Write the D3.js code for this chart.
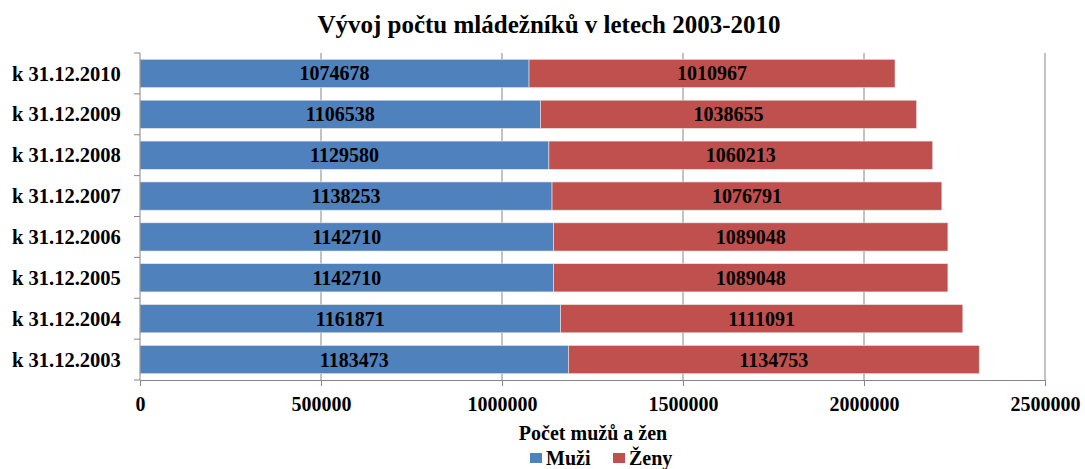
<!DOCTYPE html>
<html>
<head>
<meta charset="utf-8">
<script src="https://cdn.jsdelivr.net/npm/d3@7"></script>
<style>
  body { margin: 0; background: #fff; }
  text { font-family: "Liberation Serif", "Times New Roman", serif; font-weight: bold; }
</style>
</head>
<body>
<div id="chart"></div>
<script>
// Data
var categories = ["k 31.12.2010", "k 31.12.2009", "k 31.12.2008", "k 31.12.2007",
                  "k 31.12.2006", "k 31.12.2005", "k 31.12.2004", "k 31.12.2003"];
var muzi = [1074678, 1106538, 1129580, 1138253, 1142710, 1142710, 1161871, 1183473];
var zeny = [1010967, 1038655, 1060213, 1076791, 1089048, 1089048, 1111091, 1134753];
var xTicks = [0, 500000, 1000000, 1500000, 2000000, 2500000];
var seriesNames = ["Muži", "Ženy"];
var seriesColors = ["#4F81BD", "#C0504D"];

var width = 1085, height = 469;
var margin = { top: 53, right: 40, bottom: 89, left: 140 };

var svg = d3.select("#chart")
    .append("svg")
    .attr("width", width)
    .attr("height", height);

var x = d3.scaleLinear()
    .domain([0, 2500000])
    .range([margin.left, width - margin.right]);

var y = d3.scaleBand()
    .domain(categories)
    .range([margin.top, height - margin.bottom])
    .paddingInner(0.31)
    .paddingOuter(0.155);

// Title
svg.append("text")
    .attr("x", 549)
    .attr("y", 33)
    .attr("text-anchor", "middle")
    .style("font-size", "25px")
    .text("Vývoj počtu mládežníků v letech 2003-2010");

// Vertical gridlines
svg.selectAll(".grid")
    .data(xTicks.slice(1))
    .enter()
    .append("line")
    .attr("x1", function(d) { return x(d); })
    .attr("x2", function(d) { return x(d); })
    .attr("y1", margin.top)
    .attr("y2", height - margin.bottom)
    .attr("stroke", "#868686")
    .attr("stroke-width", 1);

// Stack the two series
var rows = categories.map(function(c, i) { return { cat: c, m: muzi[i], z: zeny[i] }; });
var stack = d3.stack().keys(["m", "z"]);
var stacked = stack(rows);

var groups = svg.selectAll(".series")
    .data(stacked)
    .enter()
    .append("g")
    .attr("fill", function(d, i) { return seriesColors[i]; });

groups.selectAll("rect")
    .data(function(d) { return d; })
    .enter()
    .append("rect")
    .attr("x", function(d) { return x(d[0]); })
    .attr("y", function(d) { return y(d.data.cat); })
    .attr("width", function(d) { return x(d[1]) - x(d[0]); })
    .attr("height", y.bandwidth())
    .attr("stroke", "#e6e6e6")
    .attr("stroke-width", 0.6);

groups.selectAll(".lbl")
    .data(function(d) { return d; })
    .enter()
    .append("text")
    .attr("x", function(d) { return (x(d[0]) + x(d[1])) / 2; })
    .attr("y", function(d) { return y(d.data.cat) + y.bandwidth() / 2; })
    .attr("dy", "0.35em")
    .attr("text-anchor", "middle")
    .attr("fill", "#000")
    .style("font-size", "20px")
    .text(function(d) { return d[1] - d[0]; });

// X axis
var xAxis = d3.axisBottom(x)
    .tickValues(xTicks)
    .tickSize(6)
    .tickPadding(11)
    .tickFormat(d3.format("d"));

var gx = svg.append("g")
    .attr("transform", "translate(0," + (height - margin.bottom) + ")")
    .call(xAxis);
gx.select(".domain").attr("stroke", "#868686");
gx.selectAll(".tick line").attr("stroke", "#868686");
gx.selectAll(".tick text")
    .style("font-size", "20px")
    .style("font-family", "Liberation Serif, serif")
    .style("font-weight", "bold")
    .attr("fill", "#000");

// Y axis with ticks at band boundaries
svg.append("line")
    .attr("x1", margin.left).attr("x2", margin.left)
    .attr("y1", margin.top).attr("y2", height - margin.bottom)
    .attr("stroke", "#868686");

var step = y.step();
var bounds = categories.map(function(c) { return y(c) - (step - y.bandwidth()) / 2; });
bounds.push(height - margin.bottom);
svg.selectAll(".ytick")
    .data(bounds)
    .enter()
    .append("line")
    .attr("x1", margin.left - 6)
    .attr("x2", margin.left)
    .attr("y1", function(d) { return d; })
    .attr("y2", function(d) { return d; })
    .attr("stroke", "#868686");

svg.selectAll(".ylabel")
    .data(categories)
    .enter()
    .append("text")
    .attr("x", 12)
    .attr("y", function(d) { return y(d) + y.bandwidth() / 2; })
    .attr("dy", "0.35em")
    .style("font-size", "20.5px")
    .text(function(d) { return d; });

// X axis title
svg.append("text")
    .attr("x", 593)
    .attr("y", 440)
    .attr("text-anchor", "middle")
    .style("font-size", "20px")
    .text("Počet mužů a žen");

// Legend
var legend = svg.selectAll(".legend")
    .data(seriesNames)
    .enter()
    .append("g")
    .attr("transform", function(d, i) { return "translate(" + (530 + i * 83) + ",453)"; });

legend.append("rect")
    .attr("width", 12)
    .attr("height", 10)
    .attr("fill", function(d, i) { return seriesColors[i]; });

legend.append("text")
    .attr("x", 16)
    .attr("y", 12)
    .style("font-size", "20px")
    .text(function(d) { return d; });
</script>
</body>
</html>
